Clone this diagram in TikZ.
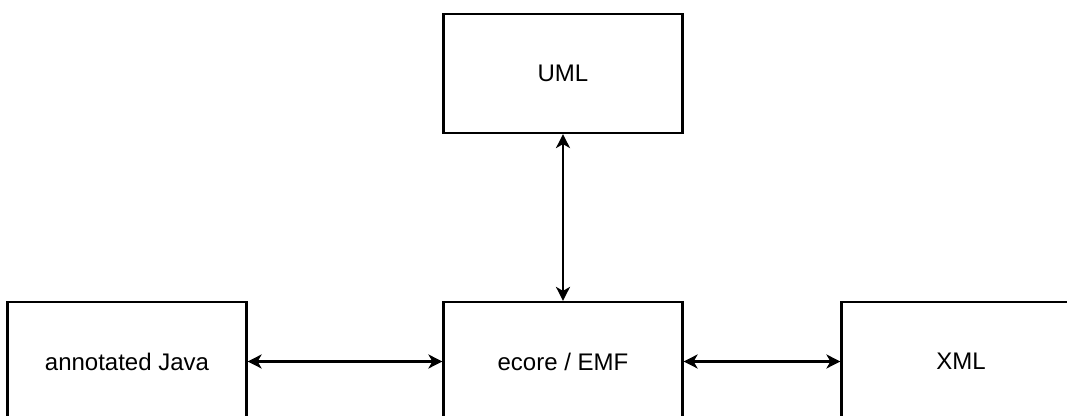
\documentclass[tikz,border=0pt]{standalone}
\usepackage{fontspec}
\setmainfont{Liberation Sans}
\usetikzlibrary{arrows.meta}

\begin{document}
\begin{tikzpicture}[x=0.5pt,y=-0.5pt,
    box/.style={draw,line width=1.1pt,minimum width=119.5pt,minimum height=59.5pt,
        inner sep=0pt,font=\fontsize{12}{14}\selectfont},
    link/.style={line width=1.1pt,{Stealth[length=7pt,width=7pt,inset=2pt]}-{Stealth[length=7pt,width=7pt,inset=2pt]}}]
        \useasboundingbox (0,0) rectangle (1067,416);
        \clip (0,0) rectangle (1067,416);
        \node[box] (uml) at (563,73.5) {UML};
        \node[box] (java) at (127,361.5) {annotated Java};
        \node[box] (ecore) at (563,361.5) {ecore / EMF};
        \node[box] (xml) at (961,361.5) {XML};
        % connections to the ecore model
        \draw[link] (uml.south) -- (ecore.north);
        \draw[link] (java.east) -- (ecore.west);
        \draw[link] (ecore.east) -- (xml.west);
      \end{tikzpicture}
\end{document}
